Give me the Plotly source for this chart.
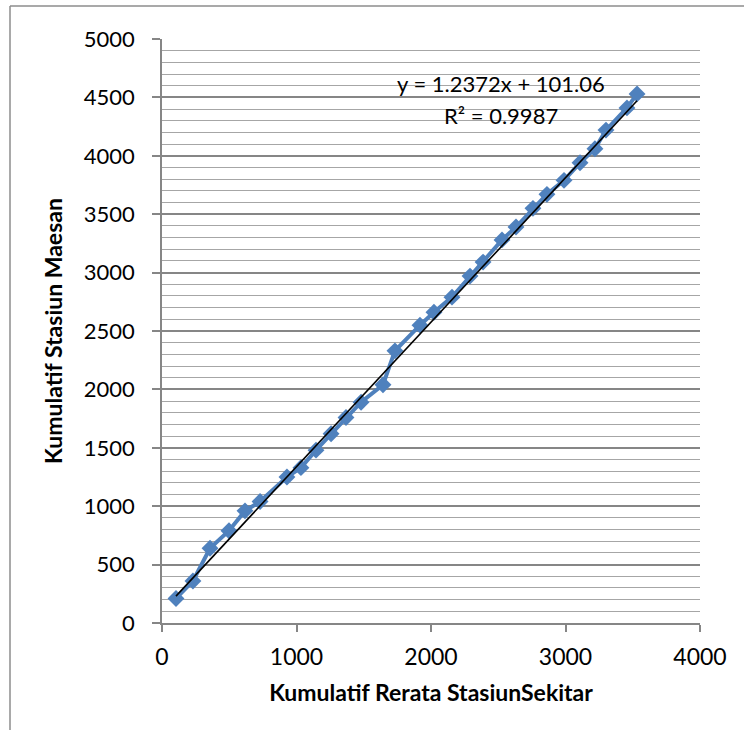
import plotly.graph_objects as go

# Data
kumulatif_rerata = [104, 230, 357, 498, 617, 729, 929, 1033, 1145, 1257, 1368, 1480, 1643, 1732,
                    1918, 2022, 2156, 2290, 2387, 2528, 2632, 2758, 2862, 2989, 3108, 3219, 3301,
                    3457, 3532]
kumulatif_maesan = [210, 360, 640, 790, 960, 1040, 1250, 1330, 1480, 1620, 1760, 1890, 2040, 2330,
                    2550, 2660, 2790, 2970, 3090, 3280, 3390, 3550, 3670, 3790, 3940, 4060, 4220,
                    4410, 4530]
slope = 1.2372
intercept = 101.06
r2 = 0.9987
x_ticks = [0, 1000, 2000, 3000, 4000]
y_ticks = [0, 500, 1000, 1500, 2000, 2500, 3000, 3500, 4000, 4500, 5000]

FONT = "Lato, 'Open Sans', sans-serif"
BLUE = "#4F81BD"

fig = go.Figure()

fig.add_trace(go.Scatter(
    x=kumulatif_rerata, y=kumulatif_maesan, mode="lines+markers",
    line=dict(color=BLUE, width=4),
    marker=dict(symbol="diamond", size=13, color=BLUE),
    showlegend=False, hoverinfo="x+y"))

x_tr = [kumulatif_rerata[0], kumulatif_rerata[-1]]
y_tr = [slope * v + intercept for v in x_tr]
fig.add_trace(go.Scatter(x=x_tr, y=y_tr, mode="lines",
                         line=dict(color="black", width=1.6), showlegend=False))

fig.add_annotation(x=2520, y=4615, text=f"y = {slope}x + {intercept}", showarrow=False,
                   font=dict(family=FONT, size=22, color="black"))
fig.add_annotation(x=2520, y=4345, text=f"R² = {r2}", showarrow=False,
                   font=dict(family=FONT, size=22, color="black"))

# outer chart border (left and top)
L, T, W, H = 162, 39, 538, 584
def px(xp):
    return (xp - L) / W
def py(yp):
    return (T + H - yp) / H
fig.add_shape(type="line", xref="paper", yref="paper", x0=px(10), x1=px(10), y0=py(6), y1=py(730),
              line=dict(color="#8C8C8C", width=1.5))
fig.add_shape(type="line", xref="paper", yref="paper", x0=px(10), x1=px(744), y0=py(6), y1=py(6),
              line=dict(color="#8C8C8C", width=1.5))

fig.update_layout(
    width=744, height=730,
    margin=dict(l=L, r=744 - L - W, t=T, b=730 - T - H),
    paper_bgcolor="white", plot_bgcolor="white",
    font=dict(family=FONT, size=22, color="black"),
    xaxis=dict(range=[0, 4000], tickvals=x_ticks, showgrid=False,
               zeroline=False, showline=True, linecolor="#868686", linewidth=1.5,
               ticks="outside", ticklen=7, tickcolor="#868686", tickwidth=1.5,
               tickfont=dict(size=23), ticklabelstandoff=6,
               title=dict(text="<b>Kumulatif Rerata StasiunSekitar</b>", font=dict(size=23), standoff=16)),
    yaxis=dict(range=[0, 5000], tickvals=y_ticks, showgrid=True, gridcolor="#868686", gridwidth=1.5,
               zeroline=False, showline=True, linecolor="#868686", linewidth=1.5,
               ticks="outside", ticklen=8, tickcolor="#868686", tickwidth=1.5,
               tickfont=dict(size=22), ticklabelstandoff=13,
               minor=dict(dtick=100, showgrid=True, gridcolor="#A6A6A6", gridwidth=1.2),
               title=dict(text="<b>Kumulatif Stasiun Maesan</b>", font=dict(size=23), standoff=15)),
)

fig.write_html("out.html")
